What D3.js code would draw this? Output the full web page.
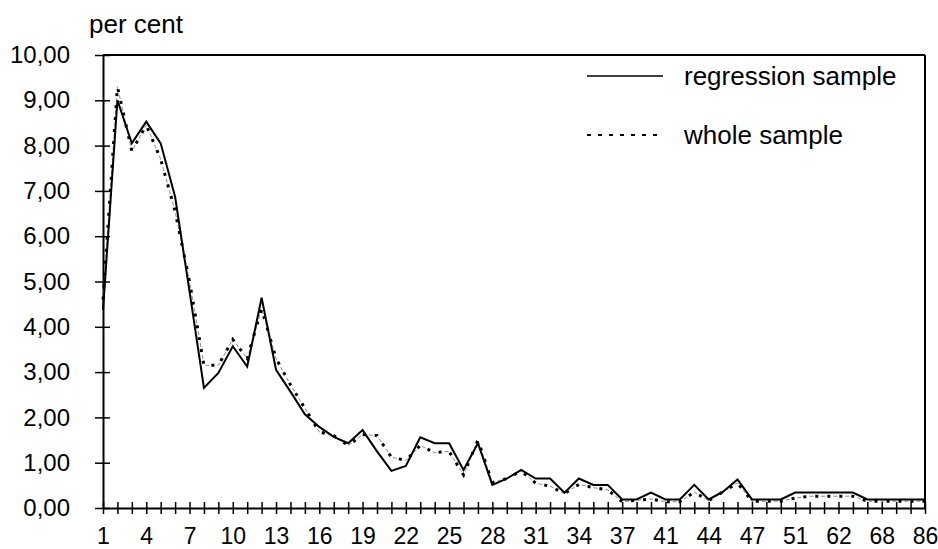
<!DOCTYPE html>
<html>
<head>
<meta charset="utf-8">
<script src="https://cdn.jsdelivr.net/npm/d3@7"></script>
<style>
    body { margin: 0; background: #fff; overflow: hidden; }
    text { font-family: "Liberation Sans", Arial, sans-serif; fill: #000; }
</style>
</head>
<body>
<div id="chart"></div>
<script>
// categories on the x axis (only every third one is labelled)
var categories = ["1", "2", "3", "4", "5", "6", "7", "8", "9", "10", "11", "12", "13", "14", "15",
    "16", "17", "18", "19", "20", "21", "22", "23", "24", "25", "26", "27", "28", "29", "30",
    "31", "32", "33", "34", "35", "36", "37", "38", "40", "41", "42", "43", "44", "45", "46",
    "47", "48", "50", "51", "53", "57", "62", "64", "66", "68", "72", "78", "86"];

var regressionSample = [4.37, 9.00, 8.05, 8.53, 8.05, 6.87, 4.78, 2.65, 2.98, 3.57, 3.12, 4.64, 3.05, 2.57, 2.07,
    1.79, 1.57, 1.43, 1.72, 1.25, 0.82, 0.93, 1.56, 1.43, 1.43, 0.84, 1.43, 0.51, 0.65, 0.84,
    0.65, 0.65, 0.34, 0.65, 0.51, 0.51, 0.19, 0.19, 0.34, 0.19, 0.19, 0.51, 0.19, 0.36, 0.63,
    0.19, 0.19, 0.19, 0.34, 0.34, 0.34, 0.34, 0.34, 0.19, 0.19, 0.19, 0.19, 0.19];

var wholeSample = [4.60, 9.30, 7.88, 8.45, 7.70, 6.55, 5.00, 3.15, 3.15, 3.72, 3.30, 4.40, 3.30, 2.72, 2.20,
    1.68, 1.60, 1.38, 1.62, 1.60, 1.12, 1.05, 1.38, 1.22, 1.25, 0.73, 1.50, 0.56, 0.65, 0.82,
    0.55, 0.48, 0.32, 0.52, 0.45, 0.40, 0.14, 0.17, 0.20, 0.14, 0.14, 0.35, 0.16, 0.36, 0.55,
    0.15, 0.15, 0.15, 0.22, 0.26, 0.26, 0.26, 0.26, 0.15, 0.15, 0.15, 0.15, 0.15];

var yTicks = [0, 1, 2, 3, 4, 5, 6, 7, 8, 9, 10];
var seriesNames = ["regression sample", "whole sample"];

var width = 938, height = 549;
var plotLeft = 103, plotRight = 925, plotTop = 55, plotBottom = 508;

var svg = d3.select('#chart')
    .append('svg')
    .attr('width', width)
    .attr('height', height)
    .style('display', 'block');

var x = d3.scalePoint().domain(categories).range([plotLeft, plotRight]).padding(0);
var y = d3.scaleLinear().domain([0, 10]).range([plotBottom, plotTop]);

var fmt = function (d) { return d3.format('.2f')(d).replace('.', ','); };

// frame top and right
svg.append('line').attr('x1', plotLeft).attr('x2', plotRight).attr('y1', plotTop).attr('y2', plotTop)
    .attr('stroke', '#000').attr('stroke-width', 2);
svg.append('line').attr('x1', plotRight).attr('x2', plotRight).attr('y1', plotTop).attr('y2', plotBottom)
    .attr('stroke', '#000').attr('stroke-width', 2);

// y axis
var yAxis = svg.append('g')
    .attr('transform', `translate(${plotLeft},0)`)
    .call(d3.axisLeft(y).tickValues(yTicks).tickFormat(fmt).tickSizeOuter(0));
yAxis.select('.domain').attr('stroke-width', 2);
yAxis.selectAll('.tick line').attr('x1', -8).attr('x2', 7).attr('stroke-width', 1.5);
yAxis.selectAll('.tick text').attr('x', -33).style('font-size', '24px');

// x axis
var xAxis = svg.append('g')
    .attr('transform', `translate(0,${plotBottom})`)
    .call(d3.axisBottom(x)
        .tickFormat(function (d, i) { return i % 3 == 0 ? d : ''; })
        .tickSizeOuter(0));
xAxis.select('.domain').attr('stroke-width', 2);
xAxis.selectAll('.tick line').attr('y1', -6).attr('y2', 6).attr('stroke-width', 1.5);
xAxis.selectAll('.tick text').attr('y', 20).style('font-size', '23px');

svg.append('text')
    .attr('x', 89).attr('y', 33)
    .style('font-size', '26px')
    .text('per cent');

var line = function (values) {
    return d3.line()
        .x(function (d, i) { return x(categories[i]); })
        .y(function (d) { return y(d); })(values);
};

// whole sample: thin grey dashes + heavy dots
svg.append('path')
    .attr('d', line(wholeSample))
    .attr('fill', 'none')
    .attr('stroke', '#8a8a8a')
    .attr('stroke-width', 1)
    .attr('stroke-dasharray', '4,8')
    .attr('stroke-dashoffset', -6);
svg.append('path')
    .attr('d', line(wholeSample))
    .attr('fill', 'none')
    .attr('stroke', '#000')
    .attr('stroke-width', 3)
    .attr('stroke-dasharray', '3,9');

// regression sample
svg.append('path')
    .attr('d', line(regressionSample))
    .attr('fill', 'none')
    .attr('stroke', '#000')
    .attr('stroke-width', 2)
    .attr('stroke-linejoin', 'miter');

// legend
var legend = svg.selectAll('.legend')
    .data(seriesNames)
    .enter()
    .append('g')
    .attr('class', 'legend')
    .attr('transform', function (d, i) { return `translate(587,${76 + i * 59})`; });

legend.append('line')
    .attr('x1', 0).attr('x2', 76)
    .attr('stroke', '#000')
    .attr('stroke-width', function (d, i) { return i == 0 ? 1.5 : 2; })
    .attr('stroke-dasharray', function (d, i) { return i == 0 ? null : '4,7'; });

legend.append('text')
    .attr('x', 97).attr('y', 9)
    .style('font-size', '26px')
    .text(function (d) { return d; });
</script>
</body>
</html>
